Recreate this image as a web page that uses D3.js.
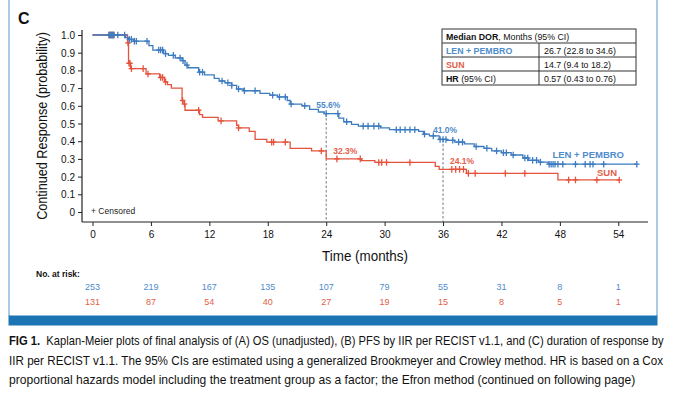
<!DOCTYPE html>
<html>
<head>
<meta charset="utf-8">
<script src="https://cdn.jsdelivr.net/npm/d3@7"></script>
<style>
  body { margin: 0; background: #fff; }
  svg { display: block; font-family: "Liberation Sans", Arial, sans-serif; }
</style>
</head>
<body>
<svg id="chart" width="680" height="394"></svg>
<script>
// ---- data ----
var months = [0, 6, 12, 18, 24, 30, 36, 42, 48, 54];
var probTicks = [0, 0.1, 0.2, 0.3, 0.4, 0.5, 0.6, 0.7, 0.8, 0.9, 1.0];
var riskLen = [253, 219, 167, 135, 107, 79, 55, 31, 8, 1];
var riskSun = [131, 87, 54, 40, 27, 19, 15, 8, 5, 1];

// step times and survival after each step
var lenTimes = [0, 3.4, 3.7, 4.2, 5.8, 6.2, 7.3, 7.8, 8.5, 9.2, 9.5, 9.8, 10.9, 11.5, 12.5, 13.0, 13.6, 14.3, 14.8, 15.5,
                17.2, 18.2, 19.0, 20.0, 20.3, 21.5, 22.3, 23.2, 23.8, 25.3, 25.8, 26.6, 27.3, 29.6, 30.5, 33.5, 34.0,
                34.6, 35.6, 36.4, 37.2, 38.2, 39.2, 40.2, 41.0, 42.0, 43.0, 44.2, 44.8, 45.8, 46.8];
var lenSurv  = [1.0, 0.985, 0.975, 0.965, 0.94, 0.915, 0.895, 0.885, 0.87, 0.855, 0.83, 0.815, 0.79, 0.775, 0.755, 0.74, 0.73, 0.715, 0.695, 0.685,
                0.67, 0.66, 0.65, 0.63, 0.61, 0.60, 0.58, 0.565, 0.556, 0.53, 0.51, 0.495, 0.485, 0.475, 0.465, 0.455, 0.44,
                0.43, 0.41, 0.405, 0.395, 0.385, 0.37, 0.36, 0.345, 0.335, 0.322, 0.305, 0.292, 0.282, 0.27];
var lenEnd = 55.9;
var lenCensor = [1.7, 1.8, 1.9, 2.0, 2.1, 2.2, 2.6, 3.3, 3.8, 4.0, 4.3, 4.5, 5.6, 6.8, 7.0, 7.2, 7.5, 8.3, 9.0, 9.3, 9.7,
                 11.0, 11.3, 13.3, 13.9, 14.3, 15.0, 15.6, 16.7, 18.5, 19.2, 19.8, 20.4, 21.8, 24.0, 25.2, 26.1, 27.8,
                 28.3, 28.9, 29.4, 31.2, 31.6, 32.1, 32.6, 33.1, 34.1, 35.0, 35.7, 36.0, 36.3, 37.0, 37.6, 38.0, 39.4,
                 40.5, 41.5, 42.2, 42.5, 43.2, 44.4, 44.7, 45.2, 45.6, 46.0, 46.9, 47.1, 47.3, 47.5, 47.8, 48.3, 49.6,
                 50.6, 51.1, 51.4, 52.5, 55.9];

var sunTimes = [0, 3.6, 3.7, 3.9, 5.5, 6.9, 7.4, 7.7, 8.1, 9.2, 9.4, 9.5, 11.0, 11.3, 12.9, 14.8, 15.0, 16.1, 16.7, 17.9,
                20.3, 22.5, 24.0, 27.6, 29.0, 35.2, 35.6, 38.4, 47.8];
var sunSurv  = [1.0, 0.955, 0.84, 0.81, 0.78, 0.76, 0.735, 0.72, 0.70, 0.63, 0.61, 0.575, 0.55, 0.535, 0.515, 0.49, 0.475, 0.455, 0.41, 0.395,
                0.36, 0.345, 0.30, 0.29, 0.28, 0.258, 0.241, 0.218, 0.181];
var sunEnd = 54.1;
var sunCensor = [1.7, 1.8, 1.9, 2.0, 2.1, 2.2, 3.65, 3.75, 3.85, 4.0, 5.2, 5.7, 7.0, 7.2, 7.5, 9.25, 9.45, 10.9, 13.2, 15.0,
                 18.4, 18.6, 19.8, 23.5, 25.1, 27.5, 29.4, 29.7, 30.2, 32.6, 36.9, 37.3, 37.7, 38.1, 38.6, 39.3, 42.4,
                 44.4, 48.9, 49.6, 51.8, 54.1];

var landmarkMonths = [24, 36];
var lenLandmarkLabels = ["55.6%", "41.0%"];
var sunLandmarkLabels = ["32.3%", "24.1%"];

var tableRows = [
  { name: "LEN + PEMBRO", value: "26.7 (22.8 to 34.6)", group: "len" },
  { name: "SUN", value: "14.7 (9.4 to 18.2)", group: "sun" }
];

var captionLines = [
  "Kaplan-Meier plots of final analysis of (A) OS (unadjusted), (B) PFS by IIR per RECIST v1.1, and (C) duration of response by",
  "IIR per RECIST v1.1. The 95% CIs are estimated using a generalized Brookmeyer and Crowley method. HR is based on a Cox",
  "proportional hazards model including the treatment group as a factor; the Efron method  (continued on following page)"
];

// ---- layout ----
var colors = { len: "#3d7cc0", sun: "#e4533c", lenText: "#4f8ccb", sunText: "#e2604a", axis: "#222" };
var svg = d3.select("#chart");

var x = d3.scaleLinear().domain([0, 54]).range([92.5, 618.3]);
var y = d3.scaleLinear().domain([0, 1]).range([212, 35]);
var axisX0 = 82, axisY0 = 222;

// squeeze a text horizontally so it spans the given width
function fitWidth(sel, width, base) {
  var w = sel.node().getComputedTextLength();
  sel.attr("transform", base + " scale(" + (width / w) + ",1)");
}

// frame
svg.append("line").attr("x1", 9).attr("x2", 9).attr("y1", 0).attr("y2", 316)
  .style("stroke", "#8fb9dd").style("stroke-width", 1.5);
svg.append("line").attr("x1", 657).attr("x2", 657).attr("y1", 0).attr("y2", 316)
  .style("stroke", "#8fb9dd").style("stroke-width", 1.5);
svg.append("rect").attr("x", 8.5).attr("y", 315.5).attr("width", 649).attr("height", 10)
  .style("fill", "#1b74b3");

// panel letter
svg.append("text").attr("x", 18).attr("y", 24).text("C")
  .style("font-size", "16px").style("font-weight", "bold").style("fill", "#111");

// y axis
var yAxis = svg.append("g").attr("transform", "translate(" + axisX0 + ",0)")
  .call(d3.axisLeft(y).tickValues(probTicks).tickSize(4).tickSizeOuter(0)
    .tickFormat(function(d) { return d === 0 ? "0" : d3.format(".1f")(d); }));
yAxis.select(".domain").remove();
yAxis.selectAll("line").style("stroke", colors.axis);
yAxis.selectAll("text").attr("x", -7).style("font-size", "10px").style("font-family", "Liberation Sans, Arial, sans-serif")
  .style("fill", "#111").attr("dy", "0.35em");
svg.append("line").attr("x1", axisX0).attr("x2", axisX0).attr("y1", 30).attr("y2", axisY0)
  .style("stroke", colors.axis).style("stroke-width", 1.2);

// x axis
var xAxis = svg.append("g").attr("transform", "translate(0," + axisY0 + ")")
  .call(d3.axisBottom(x).tickValues(months).tickSize(4).tickSizeOuter(0));
xAxis.select(".domain").remove();
xAxis.selectAll("line").style("stroke", colors.axis);
xAxis.selectAll("text").attr("y", 9).style("font-size", "10px").style("font-family", "Liberation Sans, Arial, sans-serif")
  .style("fill", "#111");
svg.append("line").attr("x1", axisX0).attr("x2", 648).attr("y1", axisY0).attr("y2", axisY0)
  .style("stroke", colors.axis).style("stroke-width", 1.2);

// axis titles
var yTitle = svg.append("text").attr("text-anchor", "middle")
  .style("font-size", "14px").style("fill", "#111").text("Continued Response (probability)");
fitWidth(yTitle, 188, "translate(47,126) rotate(-90)");
var xTitle = svg.append("text").attr("text-anchor", "middle")
  .style("font-size", "14px").style("fill", "#111").text("Time (months)");
fitWidth(xTitle, 86, "translate(365,261)");

svg.append("text").attr("x", 91).attr("y", 214).style("font-size", "8.5px").style("fill", "#222").text("+ Censored");

// step helpers
function stepValue(times, surv, t) {
  var i = d3.bisectRight(times, t) - 1;
  return surv[Math.max(0, i)];
}
function stepPoints(times, surv, end) {
  var pts = times.map(function(t, i) { return [t, surv[i]]; });
  pts.push([end, surv[surv.length - 1]]);
  return pts;
}
var line = d3.line().x(function(d) { return x(d[0]); }).y(function(d) { return y(d[1]); }).curve(d3.curveStepAfter);

// landmark dashed lines
landmarkMonths.forEach(function(m) {
  svg.append("line").attr("x1", x(m)).attr("x2", x(m))
    .attr("y1", y(stepValue(lenTimes, lenSurv, m))).attr("y2", axisY0)
    .style("stroke", "#777").style("stroke-width", 1).style("stroke-dasharray", "2.5,2");
});

function drawCurve(times, surv, end, censor, color) {
  svg.append("path").datum(stepPoints(times, surv, end)).attr("d", line)
    .style("fill", "none").style("stroke", color).style("stroke-width", 1.3);
  var g = svg.append("g");
  censor.forEach(function(t) {
    var cx = x(t), cy = y(stepValue(times, surv, t));
    g.append("line").attr("x1", cx - 2.8).attr("x2", cx + 2.8).attr("y1", cy).attr("y2", cy)
      .style("stroke", color).style("stroke-width", 1.3);
    g.append("line").attr("x1", cx).attr("x2", cx).attr("y1", cy - 3.3).attr("y2", cy + 3.3)
      .style("stroke", color).style("stroke-width", 1.3);
  });
}
drawCurve(sunTimes, sunSurv, sunEnd, sunCensor, colors.sun);
drawCurve(lenTimes, lenSurv, lenEnd, lenCensor, colors.len);

// landmark labels
landmarkMonths.forEach(function(m, i) {
  svg.append("text").attr("x", x(m) - 10).attr("y", y(stepValue(lenTimes, lenSurv, m)) - 6)
    .style("font-size", "8.5px").style("font-weight", "bold").style("fill", colors.lenText).text(lenLandmarkLabels[i]);
  svg.append("text").attr("x", x(m) + 7).attr("y", y(stepValue(sunTimes, sunSurv, m + 0.5)) - 5)
    .style("font-size", "8.5px").style("font-weight", "bold").style("fill", colors.sunText).text(sunLandmarkLabels[i]);
});

// curve end labels
svg.append("text").attr("x", 624).attr("y", y(0.27) - 6).attr("text-anchor", "end")
  .style("font-size", "9.5px").style("font-weight", "bold").style("fill", colors.lenText).text("LEN + PEMBRO");
svg.append("text").attr("x", 617).attr("y", y(0.181) - 4).attr("text-anchor", "end")
  .style("font-size", "9.5px").style("font-weight", "bold").style("fill", colors.sunText).text("SUN");

// legend table
var tb = { x0: 442, x1: 636, xm: 539, y0: 29, rh: 14 };
var tg = svg.append("g").style("font-size", "8.8px");
tg.append("rect").attr("x", tb.x0).attr("y", tb.y0).attr("width", tb.x1 - tb.x0).attr("height", tb.rh * 4)
  .style("fill", "#fff").style("stroke", "#333").style("stroke-width", 1);
[1, 2, 3].forEach(function(r) {
  tg.append("line").attr("x1", tb.x0).attr("x2", tb.x1).attr("y1", tb.y0 + r * tb.rh).attr("y2", tb.y0 + r * tb.rh)
    .style("stroke", "#333").style("stroke-width", 1);
});
tg.append("line").attr("x1", tb.xm).attr("x2", tb.xm).attr("y1", tb.y0 + tb.rh).attr("y2", tb.y0 + tb.rh * 4)
  .style("stroke", "#333").style("stroke-width", 1);
var hdr = tg.append("text").attr("x", tb.x0 + 4).attr("y", tb.y0 + 10.5).style("fill", "#111");
hdr.append("tspan").style("font-weight", "bold").text("Median DOR");
hdr.append("tspan").text(", Months (95% CI)");
tableRows.forEach(function(r, i) {
  var yy = tb.y0 + (i + 1) * tb.rh + 10.5;
  tg.append("text").attr("x", tb.x0 + 4).attr("y", yy).style("font-weight", "bold")
    .style("fill", r.group === "len" ? colors.lenText : colors.sunText).text(r.name);
  tg.append("text").attr("x", tb.xm + 5).attr("y", yy).style("fill", "#111").text(r.value);
});
var hr = tg.append("text").attr("x", tb.x0 + 4).attr("y", tb.y0 + 3 * tb.rh + 10.5).style("fill", "#111");
hr.append("tspan").style("font-weight", "bold").text("HR");
hr.append("tspan").text(" (95% CI)");
tg.append("text").attr("x", tb.xm + 5).attr("y", tb.y0 + 3 * tb.rh + 10.5).style("fill", "#111").text("0.57 (0.43 to 0.76)");

// numbers at risk
svg.append("text").attr("x", 36).attr("y", 277).style("font-size", "8.5px").style("font-weight", "bold")
  .style("fill", "#111").text("No. at risk:");
svg.append("g").selectAll("text").data(riskLen).join("text")
  .attr("x", function(d, i) { return x(months[i]); }).attr("y", 290).attr("text-anchor", "middle")
  .style("font-size", "9px").style("fill", colors.lenText).text(function(d) { return d; });
svg.append("g").selectAll("text").data(riskSun).join("text")
  .attr("x", function(d, i) { return x(months[i]); }).attr("y", 305).attr("text-anchor", "middle")
  .style("font-size", "9px").style("fill", colors.sunText).text(function(d) { return d; });

// caption
var capWidths = [655, 655, 627];
captionLines.forEach(function(c, i) {
  var t = svg.append("text").attr("x", 0).attr("y", 0)
    .style("font-size", "12.5px").style("fill", "#111");
  if (i === 0) {
    t.append("tspan").style("font-weight", "bold").text("FIG 1.");
    t.append("tspan").text("\u00a0 " + c);
  } else {
    t.text(c);
  }
  fitWidth(t, capWidths[i], "translate(9," + (345 + i * 19.5) + ")");
});
</script>
</body>
</html>
